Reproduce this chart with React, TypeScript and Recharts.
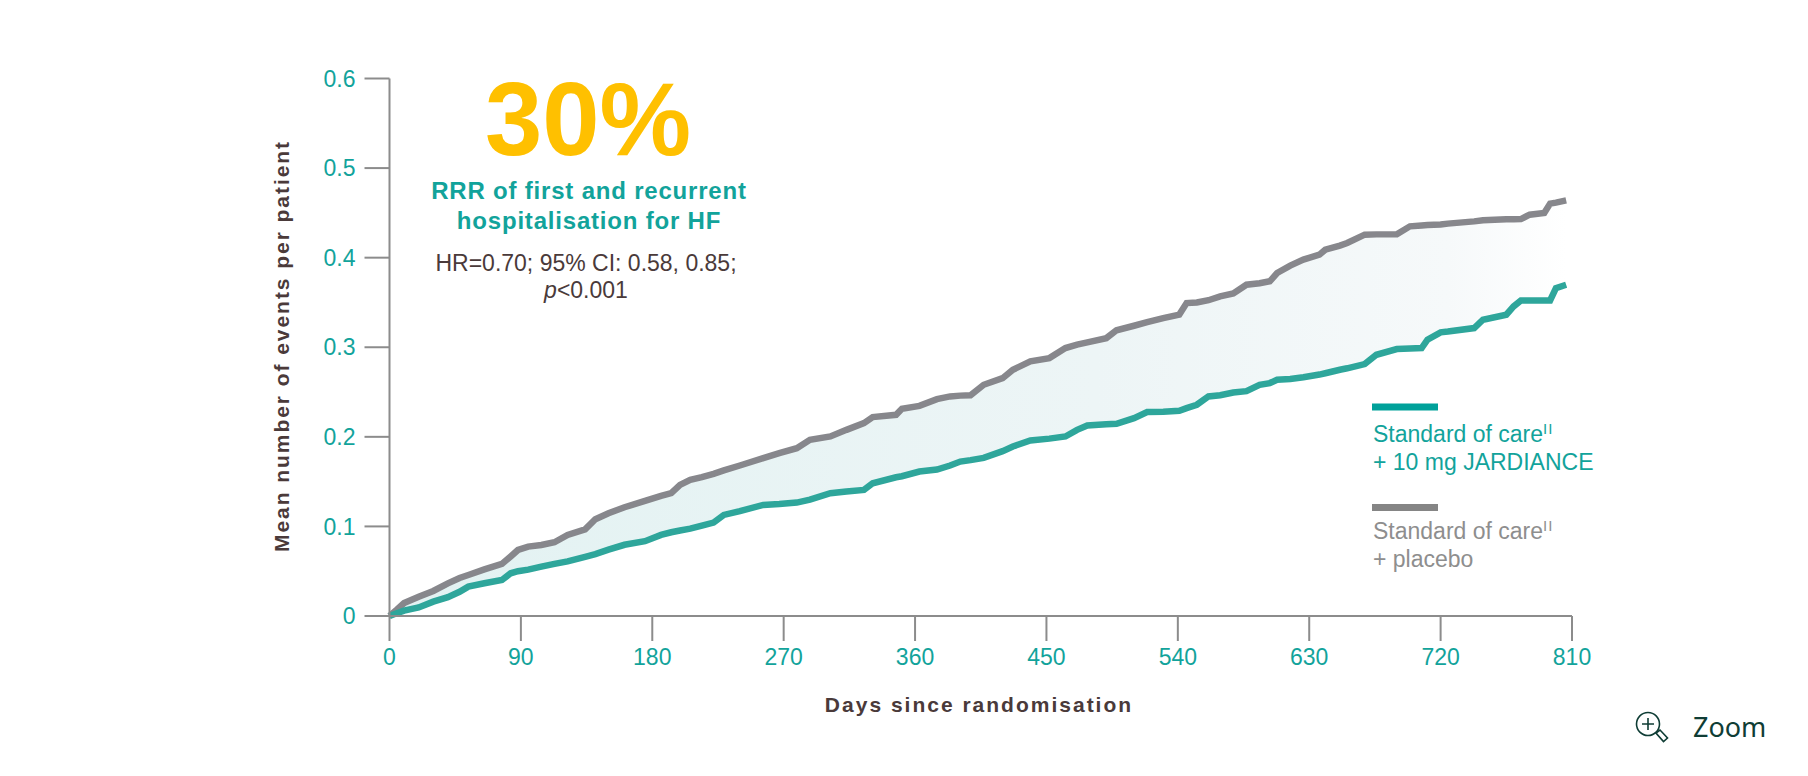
import React from "react";
import { ComposedChart, Area, Line, XAxis, YAxis } from "recharts";

const days = [0,5,10,20,30,40,48,54,65,77,83,88,95,104,113,122,134,141,150,161,175,186,193,199,206,214,222,229,240,256,267,279,288,302,313,325,331,347,351,363,375,384,391,398,407,420,427,439,452,463,471,478,491,498,510,519,530,541,546,553,561,569,578,587,596,603,608,617,626,637,641,651,656,668,676,690,699,707,711,720,725,743,749,765,770,775,781,791,795,799,806];
const placebo = [0,.007,.0145,.0216,.028,.0365,.0425,.0458,.052,.0581,.0665,.0737,.0775,.0793,.0823,.0905,.0968,.108,.1147,.1214,.1285,.1341,.1371,.1464,.152,.155,.1587,.1625,.168,.1762,.1818,.1873,.1966,.2004,.2078,.2153,.222,.2246,.2313,.2346,.2421,.2451,.246,.2465,.2581,.2655,.2749,.2842,.2879,.2991,.303,.3055,.3102,.319,.324,.328,.3325,.3365,.3493,.35,.3525,.3568,.36,.3698,.3715,.3736,.3829,.3911,.3978,.4034,.4089,.4135,.4164,.4257,.426,.4262,.435,.436,.4365,.437,.438,.4405,.4417,.4428,.443,.4431,.448,.4499,.4603,.4615,.464];
const jardiance = [0,.003,.006,.0095,.016,.021,.027,.0328,.0365,.0402,.0477,.05,.0518,.0551,.0582,.061,.066,.069,.074,.0795,.0835,.0905,.0935,.0955,.0975,.101,.1043,.1128,.117,.124,.125,.1266,.13,.1371,.139,.1408,.1482,.1549,.156,.1613,.1635,.168,.1724,.174,.1765,.184,.1892,.1959,.198,.2004,.2078,.2127,.214,.2145,.2209,.2276,.228,.229,.232,.2358,.2451,.2465,.2495,.251,.2581,.26,.2637,.2645,.2665,.2695,.271,.2749,.2765,.2812,.2916,.298,.2985,.2991,.3084,.3166,.3175,.3214,.3307,.3363,.3456,.3523,.3523,.3523,.3523,.3661,.3698];
const xTicks = [0,90,180,270,360,450,540,630,720,810];
const yTicks = [0,.1,.2,.3,.4,.5,.6];

const table = days.map((d, i) => ({ d, placebo: placebo[i], jardiance: jardiance[i], band: [jardiance[i], placebo[i]] }));

const TEAL = "#12a39b";
const LINE_TEAL = "#2ea69b";
const GRAY = "#87878c";
const AXIS = "#8c8c8c";
const BROWN = "#4a3a3a";
const FONT = "'Liberation Sans', Arial, sans-serif";

export default function App() {
  return (
    <div style={{ position: "absolute", left: 0, top: 0, width: 1808, height: 776, background: "#fff" }}>
      <ComposedChart width={1808} height={776} data={table} margin={{ top: 78.5, right: 236, bottom: 0, left: 0 }}>
        <defs>
          <linearGradient id="band" x1="0" y1="0" x2="1" y2="0">
            <stop offset="0" stopColor="#e2f2f2" />
            <stop offset="0.6" stopColor="#edf5f6" />
            <stop offset="0.9" stopColor="#f6f9fa" />
            <stop offset="1" stopColor="#ffffff" />
          </linearGradient>
        </defs>
        <XAxis dataKey="d" type="number" domain={[0, 810]} ticks={xTicks} interval={0} tickSize={25} tickMargin={8}
          stroke={AXIS} strokeWidth={2} tick={{ fill: TEAL, fontSize: 23, fontFamily: FONT }} height={160} />
        <YAxis type="number" domain={[0, 0.6]} ticks={yTicks} interval={0} tickSize={25} tickMargin={9} width={389.5}
          stroke={AXIS} strokeWidth={2} tick={{ fill: TEAL, fontSize: 23, fontFamily: FONT }} />
        <Area dataKey="band" type="linear" stroke="none" fill="url(#band)" fillOpacity={1} isAnimationActive={false} dot={false} activeDot={false} />
        <Line dataKey="placebo" type="linear" stroke={GRAY} strokeWidth={6.5} dot={false} activeDot={false} isAnimationActive={false} />
        <Line dataKey="jardiance" type="linear" stroke={LINE_TEAL} strokeWidth={6.5} dot={false} activeDot={false} isAnimationActive={false} />
      </ComposedChart>
      <svg width={1808} height={776} style={{ position: "absolute", left: 0, top: 0, pointerEvents: "none" }} fontFamily={FONT}>
        <text x={282} y={346} transform="rotate(-90 282 346)" dy={7} textAnchor="middle" fontSize={21} fontWeight={700} fill={BROWN} letterSpacing={1.95}>Mean number of events per patient</text>
        <text x={979} y={712} textAnchor="middle" fontSize={21} fontWeight={700} fill={BROWN} letterSpacing={2}>Days since randomisation</text>

        <text x={588} y={155} textAnchor="middle" fontSize={103} fontWeight={700} fill="#ffc000">30%</text>
        <text x={589} y={199} textAnchor="middle" fontSize={24} fontWeight={700} fill={TEAL} letterSpacing={0.8}>RRR of first and recurrent</text>
        <text x={589} y={229} textAnchor="middle" fontSize={24} fontWeight={700} fill={TEAL} letterSpacing={0.8}>hospitalisation for HF</text>
        <text x={586} y={271} textAnchor="middle" fontSize={23} fill={BROWN}>HR=0.70; 95% CI: 0.58, 0.85;</text>
        <text x={586} y={298} textAnchor="middle" fontSize={23} fill={BROWN}><tspan fontStyle="italic">p</tspan>&lt;0.001</text>

        <rect x={1372} y={403.5} width={66} height={7} fill="#00a19a" />
        <text x={1373} y={442} fontSize={23} fill={TEAL}>Standard of care<tspan fontSize={15} dy={-8} letterSpacing={1}>II</tspan></text>
        <text x={1373} y={470} fontSize={23} fill={TEAL}>+ 10 mg JARDIANCE</text>
        <rect x={1372} y={504} width={66} height={7} fill="#858585" />
        <text x={1373} y={539} fontSize={23} fill="#8e8e8e">Standard of care<tspan fontSize={15} dy={-8} letterSpacing={1}>II</tspan></text>
        <text x={1373} y={567} fontSize={23} fill="#8e8e8e">+ placebo</text>

        <g stroke="#0f3d35" strokeWidth={1.6} fill="none">
          <circle cx={1648} cy={724} r={11.5} />
          <path d="M1642 724H1654M1648 718V730" />
          <path d="M1656 733L1660 730L1667.5 738L1663.5 741.5Z" />
        </g>
        <text x={1693} y={737} fontSize={27} fill="#0f3d35" fontFamily="'Noto Sans', sans-serif">Zoom</text>
      </svg>
    </div>
  );
}
